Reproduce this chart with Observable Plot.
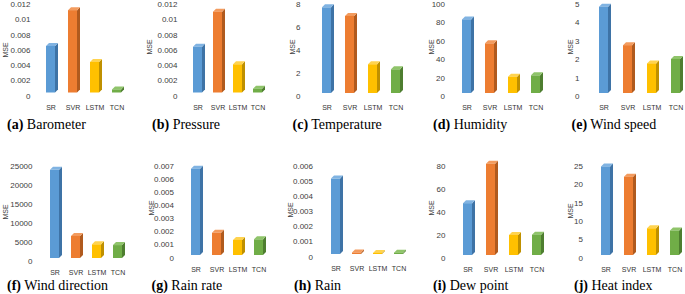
<!DOCTYPE html>
<html><head><meta charset="utf-8">
<script src="https://cdn.jsdelivr.net/npm/d3@7"></script>
<script src="https://cdn.jsdelivr.net/npm/@observablehq/plot@0.6"></script>
<style>
html,body{margin:0;padding:0;background:#fff;}
#root{position:relative;width:685px;height:294px;overflow:hidden;background:#fff;}
#root svg{position:absolute;left:0;top:0;}
.cap{position:absolute;font-family:"Liberation Serif","Times New Roman","DejaVu Serif",serif;font-size:14px;line-height:14px;white-space:nowrap;color:#000;}
.cap b{font-weight:bold;}
.mse{position:absolute;font-family:"Liberation Sans",Arial,sans-serif;font-size:7px;line-height:7px;color:#404040;transform:translate(-50%,-50%) rotate(-90deg);white-space:nowrap;}
</style></head><body><div id="root"></div>
<script>
// ---- data ----
const categories = ["SR", "SVR", "LSTM", "TCN"];
const frontColors = ["#5B9BD5", "#ED7D31", "#FFC000", "#70AD47"];
const sideColors = ["#3E73A6", "#B05A1E", "#BF9000", "#4E7E30"];
const topColors = ["#80B3E2", "#F39B5E", "#FFD34F", "#8FC46A"];

const barometer = [0.0061, 0.0108, 0.0040, 0.0004];
const pressure = [0.0060, 0.0106, 0.0037, 0.0005];
const temperature = [7.45, 6.7, 2.5, 2.06];
const humidity = [80, 54, 17.7, 19.2];
const windSpeed = [4.69, 2.6, 1.61, 1.85];
const windDirection = [23200, 5800, 3600, 3400];
const rainRate = [0.0066, 0.0017, 0.00115, 0.0012];
const rain = [0.0050, 0.0001, 0.00007, 0.00009];
const dewPoint = [45.3, 79.8, 17.5, 17.8];
const heatIndex = [24.2, 21.4, 7.3, 6.7];

const ticksBarometer = [0, 0.002, 0.004, 0.006, 0.008, 0.01, 0.012];
const ticksPressure = [0, 0.002, 0.004, 0.006, 0.008, 0.01, 0.012];
const ticksTemperature = [0, 2, 4, 6, 8];
const ticksHumidity = [0, 20, 40, 60, 80, 100];
const ticksWindSpeed = [0, 1, 2, 3, 4, 5];
const ticksWindDirection = [0, 5000, 10000, 15000, 20000, 25000];
const ticksRainRate = [0, 0.001, 0.002, 0.003, 0.004, 0.005, 0.006, 0.007];
const ticksRain = [0, 0.001, 0.002, 0.003, 0.004, 0.005, 0.006];
const ticksDewPoint = [0, 20, 40, 60, 80];
const ticksHeatIndex = [0, 5, 10, 15, 20, 25];

const panelLetters = ["a", "b", "c", "d", "e", "f", "g", "h", "i", "j"];
const panelTitles = ["Barometer", "Pressure", "Temperature", "Humidity", "Wind speed",
  "Wind direction", "Rain rate", "Rain", "Dew point", "Heat index"];
const yLabel = "MSE";

// ---- layout (page pixels) ----
const panels = [
  {values: barometer, ticks: ticksBarometer, tickRight: 30, srLeft: 45.7, pitch: 22.2, base: 92.5, top: 1, off: 3, mse: [5, 50], cap: [7, 118]},
  {values: pressure, ticks: ticksPressure, tickRight: 177, srLeft: 192, pitch: 20.7, base: 92.5, top: 1, off: 3, mse: [149, 47], cap: [152, 118]},
  {values: temperature, ticks: ticksTemperature, tickRight: 300, srLeft: 321, pitch: 23.6, base: 93, top: 1, off: 3, mse: [291.5, 47], cap: [292.5, 118]},
  {values: humidity, ticks: ticksHumidity, tickRight: 444.5, srLeft: 461.7, pitch: 23.4, base: 93, top: 1, off: 3, mse: [430.5, 47], cap: [433, 118]},
  {values: windSpeed, ticks: ticksWindSpeed, tickRight: 579, srLeft: 599, pitch: 24.2, base: 93, top: 1, off: 3, mse: [570, 47], cap: [571.5, 118]},
  {values: windDirection, ticks: ticksWindDirection, tickRight: 32, srLeft: 49.3, pitch: 21.3, base: 258, top: 163, off: 3, mse: [5, 212], cap: [7, 279]},
  {values: rainRate, ticks: ticksRainRate, tickRight: 173.5, srLeft: 190.7, pitch: 21.1, base: 255, top: 163.5, off: 2.5, mse: [150.5, 208], cap: [151.5, 279]},
  {values: rain, ticks: ticksRain, tickRight: 312.5, srLeft: 329.3, pitch: 21.9, base: 254, top: 163.5, off: 2.5, mse: [290, 210], cap: [294, 279]},
  {values: dewPoint, ticks: ticksDewPoint, tickRight: 445, srLeft: 461.7, pitch: 23.5, base: 255, top: 163.5, off: 2.5, mse: [430.5, 207.5], cap: [433, 279]},
  {values: heatIndex, ticks: ticksHeatIndex, tickRight: 582.5, srLeft: 600.7, pitch: 23.3, base: 255, top: 163.5, off: 2.5, mse: [570, 210.5], cap: [574, 279]}
];
const W = 685, H = 294, FRONT = 9, DEPTH = 3;

const root = document.getElementById("root");
const colorOf = (arr, c) => arr[categories.indexOf(c)];

function faces(data) {
  return Plot.barY(data, {
    x: "cat", y: "value", fill: "none",
    render(index, scales, values) {
      const g = d3.create("svg:g");
      const bw = scales.x && scales.x.bandwidth ? scales.x.bandwidth() : FRONT;
      const X = values.x, Y1 = values.y1, Y2 = values.y2, d = DEPTH;
      for (const i of index) {
        const x0 = X[i], x1 = X[i] + bw;
        const yt = Math.min(Y1[i], Y2[i]), yb = Math.max(Y1[i], Y2[i]);
        g.append("path")
          .attr("d", `M${x1},${yb}L${x1 + d},${yb - d}L${x1 + d},${yt - d}L${x1},${yt}Z`)
          .attr("fill", colorOf(sideColors, data[i].cat));
        g.append("path")
          .attr("d", `M${x0},${yt}L${x0 + d},${yt - d}L${x1 + d},${yt - d}L${x1},${yt}Z`)
          .attr("fill", colorOf(topColors, data[i].cat));
      }
      return g.node();
    }
  });
}

panels.forEach((p, k) => {
  const data = categories.map((c, i) => ({cat: c, value: p.values[i]}));
  const pad = 1 - FRONT / p.pitch;
  const r0 = p.srLeft - p.pitch * pad;
  const r1 = r0 + p.pitch * (categories.length + pad);
  const tp = 3;
  const chart = Plot.plot({
    width: W, height: H,
    marginLeft: p.tickRight + tp, marginRight: 0, marginTop: 0,
    marginBottom: H - p.base,
    style: {background: "transparent", fontFamily: "'Liberation Sans', Arial, sans-serif", overflow: "visible"},
    x: {type: "band", domain: categories, range: [r0, r1], padding: pad, align: 0.5},
    y: {domain: [0, p.ticks[p.ticks.length - 1]], range: [p.base, p.top]},
    color: {domain: categories, range: frontColors},
    marks: [
      Plot.axisY({ticks: p.ticks, tickFormat: d => String(d), tickSize: 0, tickPadding: tp, dy: p.off,
        fontSize: 8, color: "#404040", label: null}),
      Plot.axisX({tickSize: 0, tickPadding: (k < 5 ? 12 : 11.5), fontSize: 7, color: "#333333", label: null}),
      faces(data),
      Plot.barY(data, {x: "cat", y: "value", fill: "cat"})
    ]
  });
  root.appendChild(chart);

  const m = document.createElement("div");
  m.className = "mse";
  m.textContent = yLabel;
  m.style.left = p.mse[0] + "px";
  m.style.top = p.mse[1] + "px";
  root.appendChild(m);

  const cap = document.createElement("div");
  cap.className = "cap";
  cap.style.left = p.cap[0] + "px";
  cap.style.top = p.cap[1] + "px";
  const b = document.createElement("b");
  b.textContent = "(" + panelLetters[k] + ")";
  cap.appendChild(b);
  cap.appendChild(document.createTextNode(" " + panelTitles[k]));
  root.appendChild(cap);
});
</script></body></html>
